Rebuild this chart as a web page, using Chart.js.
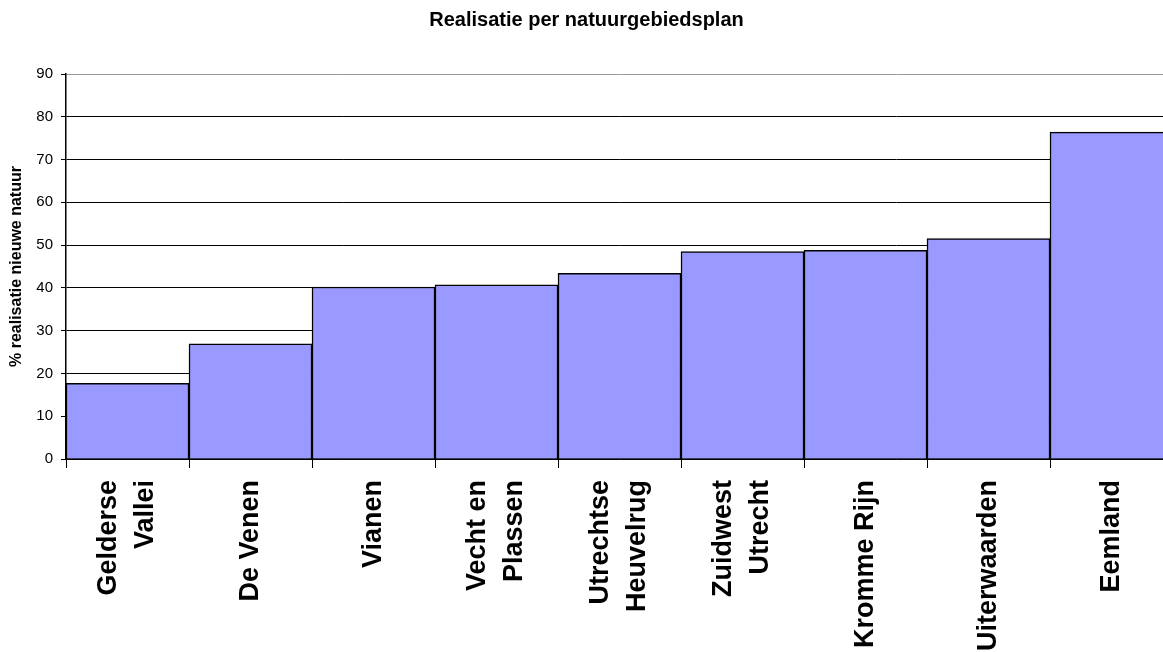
<!DOCTYPE html>
<html>
<head>
<meta charset="utf-8">
<script src="https://cdn.jsdelivr.net/npm/chart.js@4"></script>
<style>
    html, body { margin: 0; padding: 0; background: #fff; overflow: hidden; }
    #wrap { width: 1163px; height: 652px; overflow: hidden; }
</style>
</head>
<body>
<div id="wrap"><canvas id="chart" width="1175" height="652"></canvas></div>
<script>
const categories = [
    ["Gelderse", "Vallei"],
    "De Venen",
    "Vianen",
    ["Vecht en", "Plassen"],
    ["Utrechtse", "Heuvelrug"],
    ["Zuidwest", "Utrecht"],
    "Kromme Rijn",
    "Uiterwaarden",
    "Eemland"
];
const realisatie = [17.7, 26.9, 40.2, 40.7, 43.4, 48.5, 48.8, 51.5, 76.4];
const yTicks = [0, 10, 20, 30, 40, 50, 60, 70, 80, 90];

Chart.defaults.font.family = "'Liberation Sans', Arial, sans-serif";
Chart.defaults.color = "#000";

// tweeregelige labels netjes rond het midden van de categorie zetten
const centerMultiLine = {
    id: "centerMultiLine",
    beforeDraw(chart) {
        const items = chart.scales.x.getLabelItems();
        items.forEach((item) => {
            if (Array.isArray(item.label) && !item._shifted) {
                item.options.translation[0] -= item.font.lineHeight / 2;
                item._shifted = true;
            }
        });
    }
};

const ctx = document.getElementById("chart").getContext("2d");
new Chart(ctx, {
    type: "bar",
    data: {
        labels: categories,
        datasets: [{
            data: realisatie,
            backgroundColor: "#9999FF",
            borderColor: "#000",
            borderWidth: 1.5,
            categoryPercentage: 1.0,
            barPercentage: 1.0,
        }],
    },
    options: {
        responsive: false,
        animation: false,
        layout: { padding: { left: 0, right: 2, top: 0, bottom: 0 } },
        plugins: {
            legend: { display: false },
            tooltip: { enabled: false },
            title: {
                display: true,
                text: "Realisatie per natuurgebiedsplan",
                font: { size: 20, weight: "bold" },
                color: "#000",
                padding: { top: 8, bottom: 42 },
            },
        },
        scales: {
            x: {
                grid: {
                    display: true,
                    drawOnChartArea: false,
                    offset: true,
                    tickLength: 9,
                    tickColor: "#000",
                },
                border: { color: "#000", width: 1.5 },
                ticks: {
                    autoSkip: false,
                    minRotation: 90,
                    maxRotation: 90,
                    padding: 12,
                    font: { size: 27, weight: "bold", lineHeight: 1.37 },
                    color: "#000",
                },
                afterFit: (scale) => { scale.height = 193; },
            },
            y: {
                min: 0,
                max: 90,
                afterBuildTicks: (scale) => {
                    scale.ticks = yTicks.map((v) => ({ value: v }));
                },
                grid: {
                    color: (c) => (c.tick && c.tick.value === 90 ? "#999" : "#000"),
                    lineWidth: 1,
                    tickLength: 5,
                    tickColor: "#000",
                },
                border: { color: "#000", width: 1.5 },
                ticks: {
                    padding: 8,
                    font: { size: 15 },
                    color: "#000",
                },
                title: {
                    display: true,
                    text: "% realisatie nieuwe natuur",
                    font: { size: 16, weight: "bold" },
                    color: "#000",
                    padding: { top: 7, bottom: 0 },
                },
                afterFit: (scale) => { scale.width = 66; },
            },
        },
    },
    plugins: [centerMultiLine],
});
</script>
</body>
</html>
